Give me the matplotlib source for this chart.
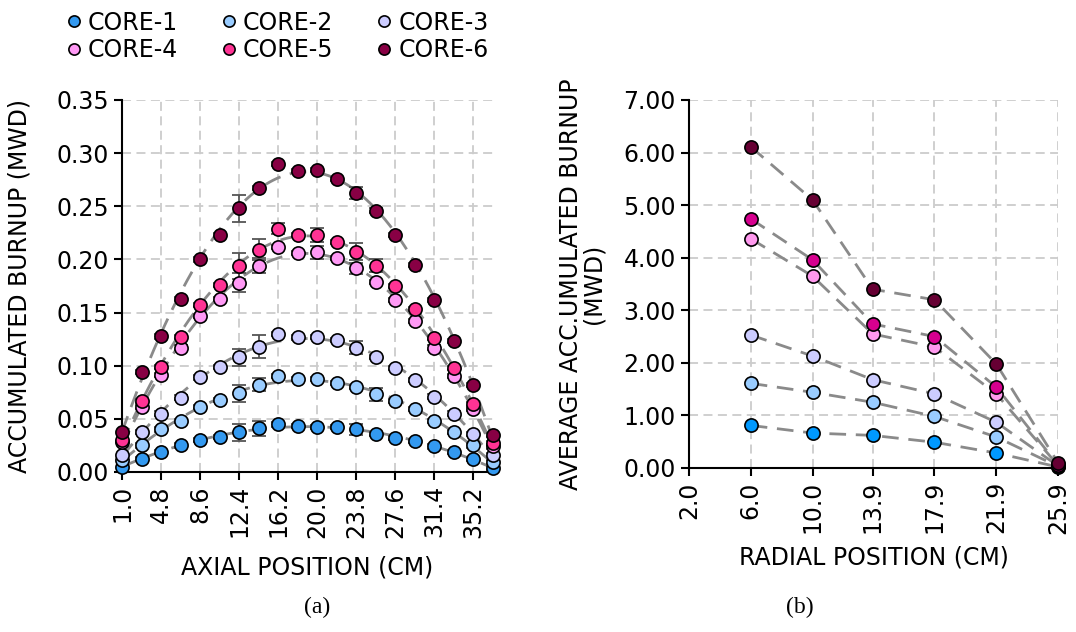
import numpy as np
import matplotlib
matplotlib.use("Agg")
import matplotlib.pyplot as plt

plt.rcParams['font.family'] = ['DejaVu Sans']

# ---- data, panel (a): axial burnup per core ----
axial_pos = [1.0, 2.9, 4.8, 6.7, 8.6, 10.5, 12.4, 14.3, 16.2, 18.1,
             20.0, 21.9, 23.8, 25.7, 27.6, 29.5, 31.4, 33.3, 35.2, 37.1]
axial_ticks = [1.0, 4.8, 8.6, 12.4, 16.2, 20.0, 23.8, 27.6, 31.4, 35.2]

core1 = [0.005, 0.0125, 0.019, 0.025, 0.030, 0.033, 0.0375, 0.041, 0.0447, 0.043,
         0.042, 0.042, 0.040, 0.036, 0.032, 0.029, 0.024, 0.019, 0.012, 0.004]
core2 = [0.011, 0.025, 0.040, 0.048, 0.061, 0.068, 0.074, 0.082, 0.090, 0.0875,
         0.0875, 0.084, 0.080, 0.073, 0.067, 0.059, 0.048, 0.0375, 0.025, 0.0094]
core3 = [0.016, 0.0375, 0.055, 0.070, 0.089, 0.099, 0.108, 0.118, 0.130, 0.1266,
         0.127, 0.124, 0.117, 0.108, 0.098, 0.0866, 0.071, 0.055, 0.036, 0.0156]
core4 = [0.028, 0.061, 0.091, 0.117, 0.147, 0.1625, 0.178, 0.194, 0.2115, 0.206,
         0.2066, 0.201, 0.1916, 0.179, 0.162, 0.142, 0.117, 0.090, 0.059, 0.024]
core5 = [0.030, 0.067, 0.099, 0.127, 0.157, 0.176, 0.194, 0.209, 0.229, 0.223,
         0.223, 0.2166, 0.207, 0.194, 0.175, 0.153, 0.126, 0.098, 0.064, 0.027]
core6 = [0.0375, 0.094, 0.1275, 0.1625, 0.200, 0.223, 0.248, 0.267, 0.290, 0.283,
         0.284, 0.276, 0.2625, 0.246, 0.223, 0.195, 0.1616, 0.123, 0.082, 0.035]

# error bars (most are hidden behind the markers)
err1 = [0.002]*6 + [0.008, 0.007] + [0.002]*4 + [0.005] + [0.002]*7
err2 = [0.002]*6 + [0.008, 0.006] + [0.002]*5 + [0.006] + [0.002]*6
err3 = [0.002]*6 + [0.008, 0.011] + [0.002]*4 + [0.006] + [0.002]*7
err4 = [0.002]*6 + [0.009, 0.007] + [0.002]*2 + [0.006, 0.002, 0.005] + [0.002]*7
err5 = [0.002]*6 + [0.0125, 0.010, 0.005, 0.002, 0.007, 0.002, 0.008, 0.006] + [0.002]*6
err6 = [0.002]*6 + [0.013] + [0.002]*5 + [0.006] + [0.002]*7

# ---- data, panel (b): radial average burnup ----
radial_pos = [6.0, 10.0, 13.9, 17.9, 21.9, 25.9]
radial_ticks = [2.0, 6.0, 10.0, 13.9, 17.9, 21.9, 25.9]
rad1 = [0.81, 0.665, 0.62, 0.49, 0.285, 0.02]
rad2 = [1.61, 1.44, 1.25, 0.98, 0.59, 0.03]
rad3 = [2.53, 2.13, 1.68, 1.41, 0.87, 0.04]
rad4 = [4.36, 3.65, 2.55, 2.30, 1.41, 0.05]
rad5 = [4.74, 3.96, 2.74, 2.50, 1.54, 0.06]
rad6 = [6.11, 5.10, 3.40, 3.20, 1.98, 0.10]

names = ['CORE-1', 'CORE-2', 'CORE-3', 'CORE-4', 'CORE-5', 'CORE-6']
colors_a = ['#3399F0', '#99CCFF', '#CCCCFF', '#FF99F5', '#FF3394', '#880044']
colors_b = ['#0099FF', '#99CCFF', '#CCCCFF', '#FF99EE', '#D6008F', '#660033']

axial = [core1, core2, core3, core4, core5, core6]
errs = [err1, err2, err3, err4, err5, err6]
radial = [rad1, rad2, rad3, rad4, rad5, rad6]

FS = 17

fig = plt.figure(figsize=(10.76, 6.32), dpi=100)
ax1 = fig.add_axes([0.1134, 0.2532, 0.3446, 0.5886])
ax2 = fig.add_axes([0.6403, 0.2595, 0.343, 0.5823])

dash = (0, (6, 3.5))


def style_axes(ax):
    for s in ['top', 'right']:
        ax.spines[s].set_visible(False)
    for s in ['left', 'bottom']:
        ax.spines[s].set_linewidth(1.5)
    ax.grid(True, color='#CCCCCC', linestyle=(0, (5, 3)), linewidth=1.3)
    ax.set_axisbelow(True)
    ax.tick_params(axis='both', labelsize=FS, width=1.5, length=6, direction='out')
    ax.tick_params(axis='x', labelrotation=90)


# panel (a)
xs = np.array(axial_pos)
xfine = np.linspace(xs[0], xs[-1], 200)
handles = []
for vals, err, col, name in zip(axial, errs, colors_a, names):
    coef = np.polyfit(xs, vals, 2)
    ax1.plot(xfine, np.polyval(coef, xfine), color='#8A8A8A', lw=2, linestyle=dash,
             zorder=2, clip_on=False)
    ax1.errorbar(xs, vals, yerr=err, fmt='none', ecolor='#555555', elinewidth=1.3,
                 capsize=5, capthick=1.3, zorder=3)
    h, = ax1.plot(xs, vals, 'o', ms=9.5, mfc=col, mec='black', mew=1.2, zorder=4,
                  label=name, clip_on=False)
    handles.append(h)

ax1.set_xlim(axial_pos[0], axial_pos[-1])
ax1.set_ylim(0, 0.35)
ax1.set_xticks(axial_ticks)
ax1.set_xticklabels(['%.1f' % t for t in axial_ticks])
ax1.set_yticks(np.arange(0, 0.351, 0.05))
ax1.set_yticklabels(['%.2f' % t for t in np.arange(0, 0.351, 0.05)])
style_axes(ax1)
ax1.set_xlabel('AXIAL POSITION (CM)', fontsize=FS)
ax1.set_ylabel('ACCUMULATED BURNUP (MWD)', fontsize=FS)
ax1.xaxis.set_label_coords(0.5, -0.225)
ax1.yaxis.set_label_coords(-0.245, 0.5)

# panel (b)
for vals, col in zip(radial, colors_b):
    ax2.plot(radial_pos, vals, color='#8A8A8A', lw=2, linestyle=dash, zorder=2,
             clip_on=False)
    ax2.plot(radial_pos, vals, 'o', ms=9.5, mfc=col, mec='black', mew=1.2, zorder=4,
             clip_on=False)

ax2.set_xlim(radial_ticks[0], radial_ticks[-1])
ax2.set_ylim(0, 7)
ax2.set_xticks(radial_ticks)
ax2.set_xticklabels(['%.1f' % t for t in radial_ticks])
ax2.set_yticks(np.arange(0, 7.01, 1))
ax2.set_yticklabels(['%.2f' % t for t in np.arange(0, 7.01, 1)])
style_axes(ax2)
ax2.set_xlabel('RADIAL POSITION (CM)', fontsize=FS)
ax2.set_ylabel('AVERAGE ACC.UMULATED BURNUP\n(MWD)', fontsize=FS, linespacing=0.95)
ax2.xaxis.set_label_coords(0.5, -0.21)
ax2.yaxis.set_label_coords(-0.225, 0.5)

# legend, row-major order like the original
order = [0, 3, 1, 4, 2, 5]
fig.legend([handles[i] for i in order], [names[i] for i in order], ncol=3,
           loc='upper left', bbox_to_anchor=(0.042, 1.017), frameon=False,
           fontsize=FS, markerscale=0.85, handlelength=0.6, handletextpad=0.3,
           columnspacing=1.85, labelspacing=0.15)

fig.text(317 / 1076, 1 - 607 / 632, '(a)', family='Liberation Serif', fontsize=17,
         ha='center', va='center')
fig.text(800 / 1076, 1 - 607 / 632, '(b)', family='Liberation Serif', fontsize=17,
         ha='center', va='center')

fig.savefig('out.png', dpi=100)
